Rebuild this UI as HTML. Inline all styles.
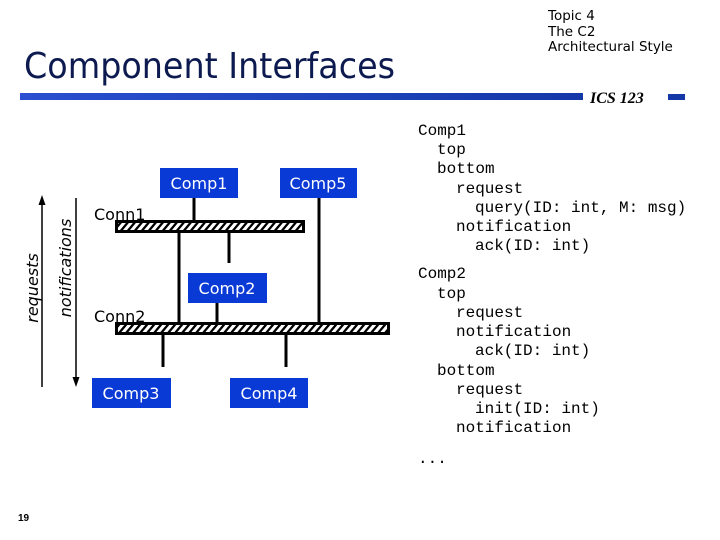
<!DOCTYPE html>
<html><head><meta charset="utf-8"><style>
body{margin:0;background:#fff;}
svg{display:block;}
.m{font-family:"Liberation Mono",monospace;font-size:16px;fill:#000;}
.b{font-family:"DejaVu Sans","Liberation Sans",sans-serif;font-size:16px;fill:#fff;}
.l{font-family:"DejaVu Sans","Liberation Sans",sans-serif;font-size:16px;fill:#000;}
</style></head><body>
<svg width="720" height="540" viewBox="0 0 720 540" xmlns="http://www.w3.org/2000/svg">
<defs>
<pattern id="h" width="7" height="7" patternUnits="userSpaceOnUse" patternTransform="skewX(-40)">
<rect width="7" height="7" fill="#000"/><rect x="1" width="4" height="7" fill="#fff"/>
</pattern>
<linearGradient id="g" x1="0" x2="1"><stop offset="0" stop-color="#2a4fd0"/><stop offset="1" stop-color="#1438a8"/></linearGradient>
</defs>
<text x="24" y="78" font-family="DejaVu Sans,Liberation Sans,sans-serif" font-size="36" fill="#0c1a50" textLength="371" lengthAdjust="spacingAndGlyphs">Component Interfaces</text>
<rect x="20" y="93" width="563" height="7" fill="url(#g)"/>
<text x="590" y="103" font-family="Liberation Serif,serif" font-style="italic" font-weight="bold" font-size="16" fill="#000">ICS 123</text>
<rect x="668" y="94" width="17" height="6" fill="#1438a8"/>
<g font-family="DejaVu Sans,Liberation Sans,sans-serif" font-size="13.5" fill="#000">
<text x="548" y="20">Topic 4</text><text x="548" y="36">The C2</text><text x="548" y="51">Architectural Style</text>
</g>
<!-- lines -->
<g stroke="#000" stroke-width="3">
<line x1="194" y1="198" x2="194" y2="221"/>
<line x1="319" y1="198" x2="319" y2="323"/>
<line x1="179" y1="232" x2="179" y2="323"/>
<line x1="229" y1="232" x2="229" y2="263"/>
<line x1="217" y1="303" x2="217" y2="323"/>
<line x1="163" y1="334" x2="163" y2="367"/>
<line x1="286" y1="334" x2="286" y2="367"/>
</g>
<rect x="115" y="220" width="190" height="13" fill="#000"/>
<rect x="118" y="223" width="184" height="7" fill="url(#h)"/>
<rect x="115" y="322" width="275" height="13" fill="#000"/>
<rect x="118" y="325" width="269" height="7" fill="url(#h)"/>
<g fill="#0a3ad6">
<rect x="160" y="168" width="78" height="30"/><rect x="280" y="168" width="77" height="30"/>
<rect x="188" y="273" width="79" height="30"/>
<rect x="92" y="378" width="79" height="30"/><rect x="230" y="378" width="78" height="30"/>
</g>
<g class="b" text-anchor="middle">
<text x="199" y="189">Comp1</text><text x="318" y="189">Comp5</text>
<text x="227" y="294">Comp2</text>
<text x="131" y="399">Comp3</text><text x="269" y="399">Comp4</text>
</g>
<text class="l" x="94" y="220">Conn1</text>
<text class="l" x="94" y="322">Conn2</text>
<!-- arrows -->
<g stroke="#000" stroke-width="1.5">
<line x1="42" y1="387" x2="42" y2="202"/>
<line x1="76" y1="198" x2="76" y2="380"/>
</g>
<polygon points="42,195 38.5,205 45.5,205" fill="#000"/>
<polygon points="76,387 72.5,377 79.5,377" fill="#000"/>
<text class="l" font-style="italic" transform="translate(38,288) rotate(-90)" text-anchor="middle">requests</text>
<text class="l" font-style="italic" transform="translate(71,268) rotate(-90)" text-anchor="middle">notifications</text>
<!-- right text -->
<g class="m" xml:space="preserve">
<text x="418" y="135">Comp1</text>
<text x="437" y="154">top</text>
<text x="437" y="173">bottom</text>
<text x="456" y="193">request</text>
<text x="475" y="212">query(ID: int, M: msg)</text>
<text x="456" y="231">notification</text>
<text x="475" y="250">ack(ID: int)</text>
<text x="418" y="278">Comp2</text>
<text x="437" y="298">top</text>
<text x="456" y="317">request</text>
<text x="456" y="336">notification</text>
<text x="475" y="355">ack(ID: int)</text>
<text x="437" y="375">bottom</text>
<text x="456" y="394">request</text>
<text x="475" y="413">init(ID: int)</text>
<text x="456" y="432">notification</text>
<text x="418" y="463">...</text>
</g>
<text x="18" y="521" font-family="Liberation Sans,sans-serif" font-size="10" font-weight="bold" fill="#000">19</text>
</svg>
</body></html>
